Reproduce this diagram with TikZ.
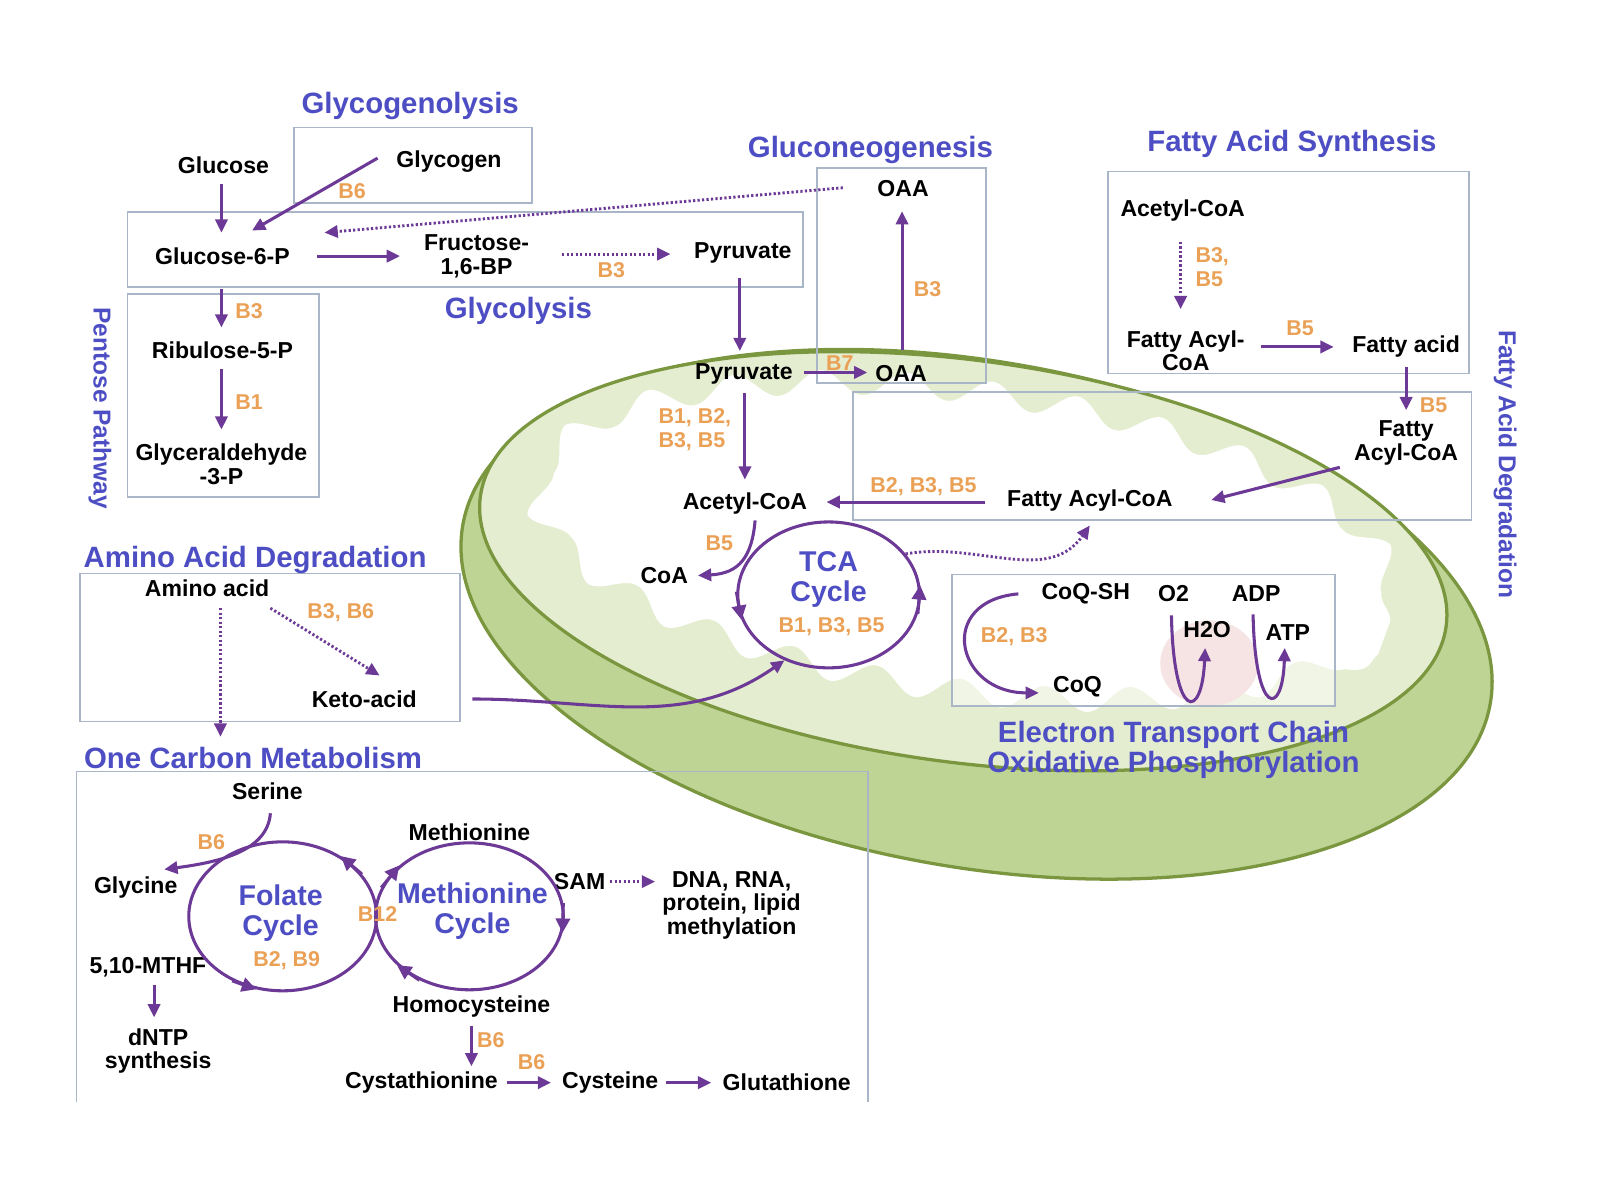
\documentclass[tikz,border=0pt]{standalone}
\usepackage{fontspec}
\setmainfont{Liberation Sans}
\usetikzlibrary{arrows.meta,calc,shapes.geometric,decorations.pathmorphing}
\definecolor{arrowc}{RGB}{108,58,150}
\definecolor{headc}{RGB}{78,78,196}
\definecolor{orng}{RGB}{234,160,85}
\definecolor{boxc}{RGB}{168,182,200}
\definecolor{mitoline}{RGB}{122,150,62}
\definecolor{mitoout}{RGB}{190,212,148}
\definecolor{mitoin}{RGB}{228,237,208}
\definecolor{pinkc}{RGB}{240,206,206}
\begin{document}
\begin{tikzpicture}[x=0.5pt,y=-0.5pt,
 lab/.style={font=\fontsize{11.3}{11.5}\selectfont\bfseries, align=center, inner sep=1pt},
 vit/.style={font=\fontsize{10.5}{11.5}\selectfont\bfseries, text=orng, align=left, inner sep=1pt},
 hdr/.style={font=\fontsize{14.4}{15}\selectfont\bfseries, text=headc, align=center, inner sep=1pt},
 sidehdr/.style={font=\fontsize{12}{14}\selectfont\bfseries, text=headc, align=center, inner sep=1pt, rotate=-90},
 cyc/.style={font=\fontsize{14}{15}\selectfont\bfseries, text=headc, align=center, inner sep=1pt},
 region/.style={draw=boxc, line width=0.9pt},
 arr/.style={draw=arrowc, line width=1.5pt, -{Triangle[length=6.5pt,width=6pt]}},
 darr/.style={arr, dash pattern=on 1.1pt off 1.1pt, line width=1.4pt},
 ring/.style={draw=arrowc, line width=1.5pt, ellipse, inner sep=0pt},
 cyctip/.style={draw=arrowc, line width=1.5pt, -{Triangle[length=7pt,width=7pt]}},
]
\useasboundingbox (0,0) rectangle (1568,1176);
\fill[white] (0,0) rectangle (1568,1176);

% mitochondrion
\filldraw[fill=mitoout, draw=mitoline, line width=1.6pt, rotate around={-9.85:(957,602)}] (957,602) ellipse [x radius=255.5pt, y radius=124pt];
\filldraw[fill=mitoin, draw=mitoline, line width=1.6pt, rotate around={-7.65:(944,550)}] (944,550) ellipse [x radius=238.75pt, y radius=98.5pt];
\fill[white, decorate, decoration={snake, amplitude=6pt, segment length=42pt}, rotate around={-7.65:(944,553)}] (944,553) ellipse [x radius=211pt, y radius=73pt];
\fill[pinkc] (1185,650) ellipse [x radius=24pt, y radius=21pt];

% region boxes
\draw[region] (288,125) rectangle (521,199);
\draw[region] (125,208) rectangle (787,281);
\draw[region] (125,288) rectangle (313,487);
\draw[region] (801,165) rectangle (966,375);
\draw[region] (1086,168) rectangle (1440,366);
\draw[region] (836,384) rectangle (1442,510);
\draw[region] (78,562) rectangle (451,707);
\draw[region, fill=white, fill opacity=0.45] (933,563) rectangle (1308,692);
\draw[region] (75,1080) -- (75,756) -- (851,756) -- (851,1080);

% headers
\node[hdr] (h1) at (402,104) {Glycogenolysis};
\node[hdr] (h2) at (853,147) {Gluconeogenesis};
\node[hdr] (h3) at (1266,141) {Fatty Acid Synthesis};
\node[hdr] (h4) at (508,305) {Glycolysis};
\node[sidehdr] (h5) at (98,400) {Pentose Pathway};
\node[sidehdr] (h6) at (1475,455) {Fatty Acid Degradation};
\node[hdr] (h7) at (250,549) {Amino Acid Degradation};
\node[hdr] (h8) at (248,743) {One Carbon Metabolism};
\node[hdr] (h9) at (1150,735) {Electron Transport Chain\\Oxidative Phosphorylation};

% metabolites
\node[lab] (glucose) at (219,162) {Glucose};
\node[lab] (glycogen) at (440,158) {Glycogen};
\node[lab] (g6p) at (218,251) {Glucose-6-P};
\node[lab] (fru) at (467,251) {Fructose-\\1,6-BP};
\node[lab] (pyr1) at (728,248) {Pyruvate};
\node[lab] (ribu) at (218,343) {Ribulose-5-P};
\node[lab] (gly3p) at (217,455) {Glyceraldehyde\\-3-P};
\node[lab] (oaa1) at (885,185) {OAA};
\node[lab] (pyr2) at (729,366) {Pyruvate};
\node[lab] (oaa2) at (883,366) {OAA};
\node[lab] (acoa) at (730,493) {Acetyl-CoA};
\node[lab] (facoa2) at (1068,491) {Fatty Acyl-CoA};
\node[lab] (acoa3) at (1159,206) {Acetyl-CoA};
\node[lab] (facoa1) at (1162,344) {Fatty Acyl-\\CoA};
\node[lab] (fa) at (1378,340) {Fatty acid};
\node[lab] (facoa3) at (1378,434) {Fatty\\Acyl-CoA};
\node[lab] (coa) at (651,564) {CoA};
\node[lab] (coqsh) at (1064,582) {CoQ-SH};
\node[lab] (o2) at (1150,582) {O2};
\node[lab] (adp) at (1231,582) {ADP};
\node[lab] (h2o) at (1183,617) {H2O};
\node[lab] (atp) at (1262,620) {ATP};
\node[lab] (coq) at (1056,673) {CoQ};
\node[lab] (amino) at (203,576) {Amino acid};
\node[lab] (keto) at (357,685) {Keto-acid};
\node[lab] (serine) at (262,775) {Serine};
\node[lab] (glycine) at (133,870) {Glycine};
\node[lab] (mthf) at (145,948) {5,10-MTHF};
\node[lab] (dntp) at (155,1030) {dNTP\\synthesis};
\node[lab] (methionine) at (460,816) {Methionine};
\node[lab] (homocys) at (462,986) {Homocysteine};
\node[lab] (cysta) at (413,1061) {Cystathionine};
\node[lab] (cysteine) at (598,1061) {Cysteine};
\node[lab] (glut) at (771,1061) {Glutathione};
\node[lab] (sam) at (568,864) {SAM};
\node[lab] (dna) at (717,887) {DNA, RNA,\\protein, lipid\\methylation};

% cycles
\node[ring, minimum width=89pt, minimum height=71.5pt] (tcaring) at (812,583) {};
\node[cyc] (tca) at (812,568) {TCA\\Cycle};
\node[ring, minimum width=92pt, minimum height=73pt] (folring) at (277,898) {};
\node[cyc] (folate) at (275,895) {Folate\\Cycle};
\node[ring, minimum width=92pt, minimum height=72pt] (metring) at (460,898) {};
\node[cyc] (metcyc) at (463,893) {Methionine\\Cycle};
\draw[cyctip] (tcaring.178) -- (tcaring.196);
\draw[cyctip] (tcaring.348) -- (tcaring.6);
\draw[cyctip] (folring.28) -- (folring.46);
\draw[cyctip] (folring.232) -- (folring.250);
\draw[cyctip] (metring.162) -- (metring.144);
\draw[cyctip] (metring.8) -- (metring.350);
\draw[cyctip] (metring.232) -- (metring.214);

% vitamins
\node[vit] (v1) at (345,187) {B6};
\node[vit] (v2) at (599,265) {B3};
\node[vit] (v3) at (244,305) {B3};
\node[vit] (v4) at (244,394) {B1};
\node[vit] (v5) at (909,283) {B3};
\node[vit] (v6) at (823,356) {B7};
\node[vit] (v7) at (681,421) {B1, B2,\\B3, B5};
\node[vit] (v8) at (905,477) {B2, B3, B5};
\node[vit] (v9) at (1188,262) {B3,\\B5};
\node[vit] (v10) at (1274,322) {B5};
\node[vit] (v11) at (1405,397) {B5};
\node[vit] (v12) at (705,532) {B5};
\node[vit] (v13) at (815,614) {B1, B3, B5};
\node[vit] (v14) at (994,624) {B2, B3};
\node[vit] (v15) at (334,600) {B3, B6};
\node[vit] (v16) at (207,825) {B6};
\node[vit] (v17) at (281,941) {B2, B9};
\node[vit] (v18) at (370,896) {B12};
\node[vit] (v19) at (481,1019) {B6};
\node[vit] (v20) at (521,1041) {B6};

% connectors
\draw[arr] ($(glucose)+(-2,18)$) -- ($(g6p)+(-1,-23)$);
\draw[arr] ($(glycogen)+(-70,-3)$) -- ($(g6p)+(29,-25)$);
\draw[darr] ($(oaa1)+(-59,-1)$) -- ($(g6p)+(100,-23)$);
\draw[arr] ($(g6p)+(93,0)$) -- ($(fru)+(-75,0)$);
\draw[darr] ($(fru)+(84,-2)$) -- ($(pyr1)+(-71,1)$);
\draw[arr] ($(pyr1)+(-3,24)$) -- ($(pyr2)+(-4,-22)$);
\draw[arr] ($(g6p)+(-1,32)$) -- ($(ribu)+(-1,-22)$);
\draw[arr] ($(ribu)+(-1,19)$) -- ($(gly3p)+(0,-34)$);
\draw[arr] ($(pyr2)+(59,-1)$) -- ($(oaa2)+(-33,-1)$);
\draw[arr] ($(oaa2)+(1,-23)$) -- ($(oaa1)+(-1,22)$);
\draw[arr] ($(pyr2)+(1,19)$) -- ($(acoa)+(0,-23)$);
\draw[arr] ($(facoa2)+(-103,1)$) -- ($(acoa)+(80,-1)$);
\draw[darr] ($(acoa3)+(-2,31)$) -- ($(facoa1)+(-5,-41)$);
\draw[arr] ($(facoa1)+(74,-4)$) -- ($(fa)+(-71,0)$);
\draw[arr] ($(fa)+(0,20)$) -- ($(facoa3)+(0,-32)$);
\draw[arr] ($(facoa3)+(-65,24)$) -- ($(facoa2)+(119,-1)$);
\draw[arr] ($(acoa)+(10,17)$) .. controls ($(acoa)+(7,52)$) and ($(coa)+(74,-2)$) .. ($(coa)+(33,0)$);
\draw[darr] (tcaring.28) to[out=10,in=235] ($(facoa2)+(0,24)$);
\draw[arr] ($(keto)+(106,0)$) to[out=0,in=215] (tcaring.236);
\draw[darr] ($(amino)+(13,20)$) -- ($(h8)+(-32,-21)$);
\draw[darr] ($(amino)+(62,20)$) -- ($(keto)+(15,-23)$);
\draw[arr] ($(coqsh)+(-66,0)$) to[out=185,in=180,looseness=2.1] ($(coq)+(-38,6)$);
\draw[arr] ($(o2)+(-2,21)$) .. controls ($(o2)+(0,125)$) and ($(h2o)+(-5,90)$) .. ($(h2o)+(-2,18)$);
\draw[arr] ($(adp)+(-3,20)$) .. controls ($(adp)+(-1,121)$) and ($(atp)+(-5,83)$) .. ($(atp)+(-3,15)$);
\draw[arr] ($(serine)+(3,22)$) .. controls ($(serine)+(0,60)$) and ($(glycine)+(80,-25)$) .. ($(glycine)+(28,-18)$);
\draw[arr] ($(mthf)+(6,17)$) -- ($(dntp)+(-4,-33)$);
\draw[arr] ($(homocys)+(0,19)$) -- ($(cysta)+(49,-16)$);
\draw[arr] ($(cysta)+(84,0)$) -- ($(cysteine)+(-58,0)$);
\draw[arr] ($(cysteine)+(55,0)$) -- ($(glut)+(-74,0)$);
\draw[darr] ($(sam)+(30,0)$) -- ($(dna)+(-75,-23)$);
\end{tikzpicture}
\end{document}
